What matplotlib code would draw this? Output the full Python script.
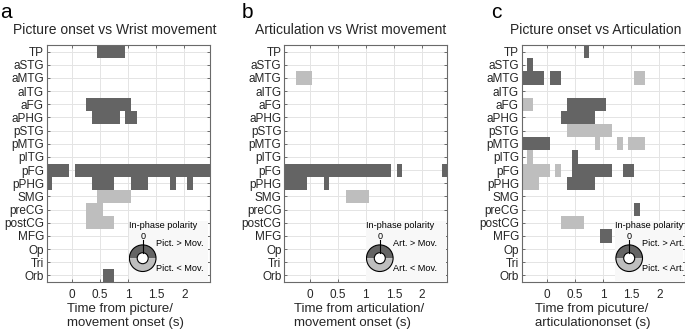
import matplotlib
matplotlib.use("Agg")
import matplotlib.pyplot as plt
from matplotlib.patches import Wedge, Circle

plt.rcParams['font.family'] = ['Liberation Sans', 'DejaVu Sans']

regions = ["TP", "aSTG", "aMTG", "aITG", "aFG", "aPHG", "pSTG", "pMTG", "pITG",
           "pFG", "pPHG", "SMG", "preCG", "postCG", "MFG", "Op", "Tri", "Orb"]

xticks = [0, 0.5, 1, 1.5, 2]
xtick_labels = ["0", "0.5", "1", "1.5", "2"]
time_range = (-0.45, 2.45)

# (region, start (s), end (s), polarity)  +1 = first > second (dark), -1 = first < second (light)
segs_a = [
    ("TP", 0.45, 0.95, 1),
    ("aFG", 0.25, 1.05, 1),
    ("aPHG", 0.35, 0.85, 1),
    ("aPHG", 0.95, 1.15, 1),
    ("pFG", -0.45, -0.05, 1),
    ("pFG", 0.05, 2.45, 1),
    ("pPHG", -0.45, -0.35, 1),
    ("pPHG", 0.35, 0.75, 1),
    ("pPHG", 1.05, 1.35, 1),
    ("pPHG", 1.75, 1.85, 1),
    ("pPHG", 2.05, 2.15, 1),
    ("SMG", 0.45, 1.05, -1),
    ("preCG", 0.25, 0.55, -1),
    ("postCG", 0.25, 0.75, -1),
    ("Orb", 0.55, 0.75, 1),
]

segs_b = [
    ("aMTG", -0.25, 0.05, -1),
    ("pFG", -0.45, 1.45, 1),
    ("pFG", 1.55, 1.65, 1),
    ("pFG", 2.35, 2.45, 1),
    ("pPHG", -0.45, -0.05, 1),
    ("pPHG", 0.25, 0.35, 1),
    ("SMG", 0.65, 1.05, -1),
]

segs_c = [
    ("TP", 0.65, 0.75, 1),
    ("aSTG", -0.35, -0.25, 1),
    ("aMTG", -0.45, -0.05, 1),
    ("aMTG", 0.05, 0.25, 1),
    ("aMTG", 1.55, 1.75, -1),
    ("aFG", -0.45, -0.25, -1),
    ("aFG", 0.35, 1.05, 1),
    ("aPHG", 0.25, 0.85, 1),
    ("pSTG", 0.35, 1.15, -1),
    ("pMTG", -0.45, 0.05, 1),
    ("pMTG", 0.85, 0.95, -1),
    ("pMTG", 1.25, 1.35, -1),
    ("pMTG", 1.45, 1.75, -1),
    ("pITG", -0.35, -0.25, -1),
    ("pITG", 0.45, 0.55, 1),
    ("pFG", -0.45, 0.05, -1),
    ("pFG", 0.15, 0.25, -1),
    ("pFG", 0.45, 1.15, 1),
    ("pFG", 1.35, 1.55, 1),
    ("pPHG", -0.45, -0.15, -1),
    ("pPHG", 0.35, 0.85, 1),
    ("preCG", 1.55, 1.65, 1),
    ("postCG", 0.25, 0.65, -1),
    ("MFG", 0.95, 1.15, 1),
]

titles = ["Picture onset vs Wrist movement", "Articulation vs Wrist movement",
          "Picture onset vs Articulation"]
xlabels = ["Time from picture/\nmovement onset (s)",
           "Time from articulation/\nmovement onset (s)",
           "Time from picuture/\narticulationonset (s)"]
key_labels = [("Pict. > Mov.", "Pict. < Mov."),
              ("Art. > Mov.", "Art. < Mov."),
              ("Pict. > Art.", "Pict. < Art.")]
letters = ["a", "b", "c"]

DARK = "#646464"
LIGHT = "#bebebe"
TXT = "#262626"
AX_W, AX_H = 163.0, 237.0   # axes size in pixels


def polarity_key(ax, cx, labels):
    x0 = cx - 14
    w, h = 161.5 - x0, 61.0
    ins = ax.inset_axes([x0 / AX_W, 0.5 / AX_H, w / AX_W, h / AX_H])
    ins.set_xlim(0, w)
    ins.set_ylim(0, h)
    ins.set_facecolor("#f8f8f8")
    ins.set_xticks([])
    ins.set_yticks([])
    for sp in ins.spines.values():
        sp.set_visible(False)
    c = (14, 23.3)
    ins.add_patch(Wedge(c, 13.3, 0, 180, width=7.8, color=DARK, lw=0))
    ins.add_patch(Wedge(c, 13.3, 180, 360, width=7.8, color=LIGHT, lw=0))
    ins.add_patch(Circle(c, 13.3, fill=False, lw=0.8, ec="k"))
    ins.add_patch(Circle(c, 5.5, fc="white", lw=0.8, ec="k"))
    ins.plot([14, 14], [28.8, 41.5], color="k", lw=0.8)
    ins.text(14, 45.3, "0", ha="center", va="center", fontsize=6.5, color="k")
    ins.text(34, 55.8, "In-phase polarity", ha="center", va="center", fontsize=6.6, color="k")
    ins.text(27, 37.7, labels[0], ha="left", va="center", fontsize=6.6, color="k")
    ins.text(27, 12.7, labels[1], ha="left", va="center", fontsize=6.6, color="k")


fig = plt.figure(figsize=(6.85, 3.33), dpi=100)

ax_left = [46.7, 284.3, 521.7]
title_x = [0.419, 0.406, 0.456]
xlabel_x = [0.484, 0.458, 0.434]
key_x = [96, 95.5, 107.5]
letter_x = [0, 241.7, 491]

for i, segs in enumerate([segs_a, segs_b, segs_c]):
    ax = fig.add_axes([ax_left[i] / 685, 51 / 333, AX_W / 685, AX_H / 333])
    for reg, t0, t1, s in segs:
        ax.barh(regions.index(reg), t1 - t0, left=t0, height=1.0,
                color=DARK if s > 0 else LIGHT, linewidth=0, antialiased=False)
    ax.set_xlim(*time_range)
    ax.set_ylim(len(regions) - 0.5, -0.5)
    ax.set_yticks(range(len(regions)))
    ax.set_yticklabels(regions)
    ax.set_xticks(xticks)
    ax.set_xticklabels(xtick_labels)
    ax.grid(True, color="#e4e4e4", lw=0.7)
    ax.set_axisbelow(True)
    for sp in ax.spines.values():
        sp.set_color("#6a6a6a")
        sp.set_linewidth(0.8)
    ax.tick_params(direction="in", length=2.5, width=0.7, top=True, right=True,
                   labelsize=8.5, color="#6a6a6a", labelcolor=TXT)
    ax.tick_params(axis="y", pad=2)
    ax.tick_params(axis="x", pad=5)

    ax.text(title_x[i], 1.063, titles[i], transform=ax.transAxes, ha="center",
            va="center", fontsize=10, color=TXT)
    ax.set_xlabel(xlabels[i], fontsize=9.5, color=TXT, multialignment="left")
    ax.xaxis.set_label_coords(xlabel_x[i], -0.089)

    polarity_key(ax, key_x[i], key_labels[i])

    fig.text(letter_x[i] / 685, 0.962, letters[i], ha="left", va="center",
             fontsize=15, color="k")

fig.savefig("out.png", dpi=100)
